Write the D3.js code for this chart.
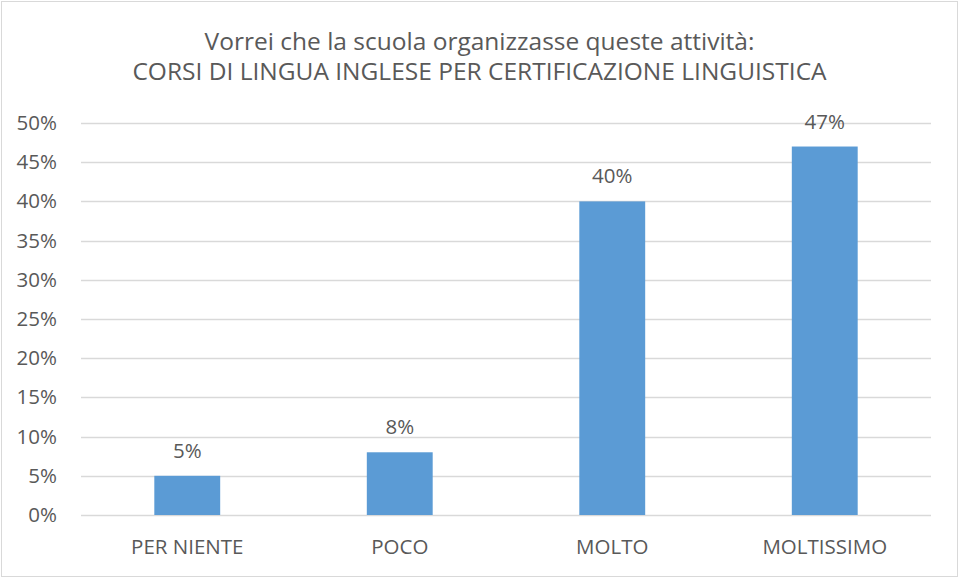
<!DOCTYPE html>
<html>
<head>
<meta charset="utf-8">
<script src="https://d3js.org/d3.v7.min.js"></script>
<style>
  body { margin: 0; background: #fff; }
  text { font-family: "Open Sans", Lato, sans-serif; fill: #595959; }
</style>
</head>
<body>
<script>
// chart data
var categories = ["PER NIENTE", "POCO", "MOLTO", "MOLTISSIMO"];
var values = [0.05, 0.08, 0.40, 0.47];
var valueLabels = ["5%", "8%", "40%", "47%"];
var yTicks = [0, 0.05, 0.10, 0.15, 0.20, 0.25, 0.30, 0.35, 0.40, 0.45, 0.50];
var titleLines = ["Vorrei che la scuola organizzasse queste attività:",
                  "CORSI DI LINGUA INGLESE PER CERTIFICAZIONE LINGUISTICA"];

var W = 959, H = 578;
var margin = {top: 123, right: 28, bottom: 63, left: 81},
    width = W - margin.left - margin.right,
    height = H - margin.top - margin.bottom;

var svg = d3.select("body").append("svg")
    .attr("width", W)
    .attr("height", H);

// outer border
svg.append("rect")
    .attr("x", 1.5).attr("y", 1.5)
    .attr("width", W - 3).attr("height", H - 3)
    .attr("fill", "#fff")
    .attr("stroke", "#d9d9d9");

// title
svg.selectAll(".title")
    .data(titleLines)
  .enter().append("text")
    .attr("class", "title")
    .attr("x", W / 2)
    .attr("y", function(d, i) { return 50 + i * 30; })
    .attr("text-anchor", "middle")
    .style("font-size", "24.5px")
    .text(function(d) { return d; });

var g = svg.append("g")
    .attr("transform", "translate(" + margin.left + "," + margin.top + ")");

var x = d3.scaleBand().domain(categories).range([0, width]).paddingInner(0.69).paddingOuter(0.345);
var y = d3.scaleLinear().domain([0, 0.5]).range([height, 0]);

// gridlines
g.selectAll(".grid")
    .data(yTicks)
  .enter().append("line")
    .attr("x1", 0).attr("x2", width)
    .attr("y1", function(d) { return Math.round(y(d)) + 0.5; })
    .attr("y2", function(d) { return Math.round(y(d)) + 0.5; })
    .attr("stroke", "#d9d9d9")
    .attr("stroke-width", 1.3);

// y axis
var yAxis = g.append("g")
    .call(d3.axisLeft(y).tickValues(yTicks).tickFormat(d3.format(".0%")).tickSize(0).tickPadding(24));
yAxis.select(".domain").remove();
yAxis.selectAll("text").style("font-size", "20.5px").attr("fill", "#595959");

// x axis
var xAxis = g.append("g")
    .attr("transform", "translate(0," + height + ")")
    .call(d3.axisBottom(x).tickSize(0).tickPadding(24));
xAxis.select(".domain").remove();
xAxis.selectAll("text").style("font-size", "20.5px").attr("fill", "#595959");

// bars
g.selectAll(".bar")
    .data(values)
  .enter().append("rect")
    .attr("class", "bar")
    .attr("x", function(d, i) { return x(categories[i]); })
    .attr("width", x.bandwidth())
    .attr("y", function(d) { return y(d); })
    .attr("height", function(d) { return height - y(d); })
    .attr("fill", "#5b9bd5");

// value labels
g.selectAll(".lbl")
    .data(values)
  .enter().append("text")
    .attr("class", "lbl")
    .attr("x", function(d, i) { return x(categories[i]) + x.bandwidth() / 2; })
    .attr("y", function(d) { return y(d) - 18; })
    .attr("text-anchor", "middle")
    .style("font-size", "20.5px")
    .text(function(d, i) { return valueLabels[i]; });
</script>
</body>
</html>
